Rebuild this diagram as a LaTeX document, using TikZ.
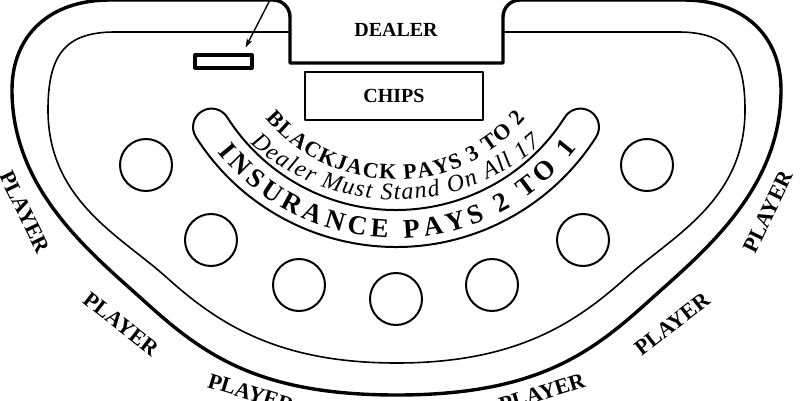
\documentclass[tikz,border=0pt]{standalone}
\usepackage{fontspec}
\setmainfont{Liberation Serif}
\usetikzlibrary{decorations.text,arrows.meta}

\begin{document}
\begin{tikzpicture}[
        x = 1pt, y = 1pt,
        line join=round,
        >={Stealth[length=9pt,width=6pt]},
        rim/.style = {line width=3.4pt},
        rail/.style = {line width=1.6pt},
        spot/.style = {circle, draw, line width=2pt, minimum size=52pt, inner sep=0pt},
        seat/.style = {font=\bfseries\fontsize{22}{24}\selectfont, inner sep=0pt},
        sign/.style = {font=\bfseries\fontsize{20}{22}\selectfont}
    ]

    \useasboundingbox (0,0) rectangle (800,400);
    \fill[white] (0,0) rectangle (800,400);

    \coordinate (C) at (396,390);
    \coordinate (D) at (396,418.5);

    % table rim with the dealer cut-out
    \draw[rim] (290,337) -- (290,383) arc[start angle=0, end angle=90, radius=17]
        -- (110,400) .. controls (50,400) and (12,365) .. (12,310)
        .. controls (12,210) and (91,147) .. (143,100)
        .. controls (202,46.5) and (256.5,5) .. (396.5,5)
        .. controls (536.5,5) and (591,46.5) .. (650,100)
        .. controls (702,147) and (781,210) .. (781,310)
        .. controls (781,365) and (743,400) .. (683,400)
        -- (520,400) arc[start angle=90, end angle=180, radius=17]
        -- (503,337) -- cycle;

    % inner rail
    \draw[rail] (290,368) -- (115,368) .. controls (65,368) and (48,345) .. (48,290)
        .. controls (48,200) and (120,164) .. (165,124)
        .. controls (217,77) and (276.5,37) .. (396.5,37)
        .. controls (516.5,37) and (576,77) .. (628,124)
        .. controls (673,164) and (745,200) .. (745,290)
        .. controls (745,345) and (728,368) .. (678,368) -- (503,368);

    \node[sign] (dealer) at (396,370) {DEALER};
    \node[sign, draw, line width=1.8pt, minimum width=178pt, minimum height=48pt] (chips) at (394,304) {CHIPS};

    \node[draw, line width=3.2pt, minimum width=57pt, minimum height=13pt, inner sep=0pt] (slot) at (223.5,338.5) {};
    \coordinate (pointer) at (271,402);
    \draw[->, line width=1.4pt] (pointer) -- ([xshift=-8pt,yshift=6pt]slot.north east);

    % betting spots
    \foreach \x/\y [count=\i] in {146/235, 211/160, 299/115, 396/101, 492/115, 583/160, 647/235}
        \node[spot] (spot\i) at (\x,\y) {};

    % insurance band
    \draw[line width=2pt] (C) ++(212.4:237) arc[start angle=212.4, end angle=327.6, radius=237]
        arc[start angle=327.6, end angle=507.6, radius=18.5]
        arc[start angle=327.6, end angle=212.4, radius=200]
        arc[start angle=392.4, end angle=572.4, radius=18.5] -- cycle;

    \path[decorate, decoration={text along path, text align={fit to path},
        text={|\bfseries\fontsize{22}{24}\selectfont|BLACKJACK PAYS 3 TO 2}}]
        (C) ++(219.8:169.5) arc[start angle=219.8, end angle=320.2, radius=169.5];
    \path[decorate, decoration={text along path, text align={fit to path},
        text={|\itshape\fontsize{24}{26}\selectfont|Dealer Must Stand On All 17}}]
        (D) ++(228:218) arc[start angle=228, end angle=311.7, radius=218];
    \path[decorate, decoration={text along path, text align={fit to path},
        text={|\bfseries\fontsize{27}{29}\selectfont|INSURANCE PAYS 2 TO 1}}]
        (C) ++(218.6:228) arc[start angle=218.6, end angle=322.7, radius=228];

    % player places
    \foreach \x/\y/\a [count=\i] in {25/188/-64, 121/76/-38, 251/7/-17, 542/7/17, 672/76/38, 768/188/64}
        \node[seat, rotate=\a] (player\i) at (\x,\y) {PLAYER};
\end{tikzpicture}
\end{document}
